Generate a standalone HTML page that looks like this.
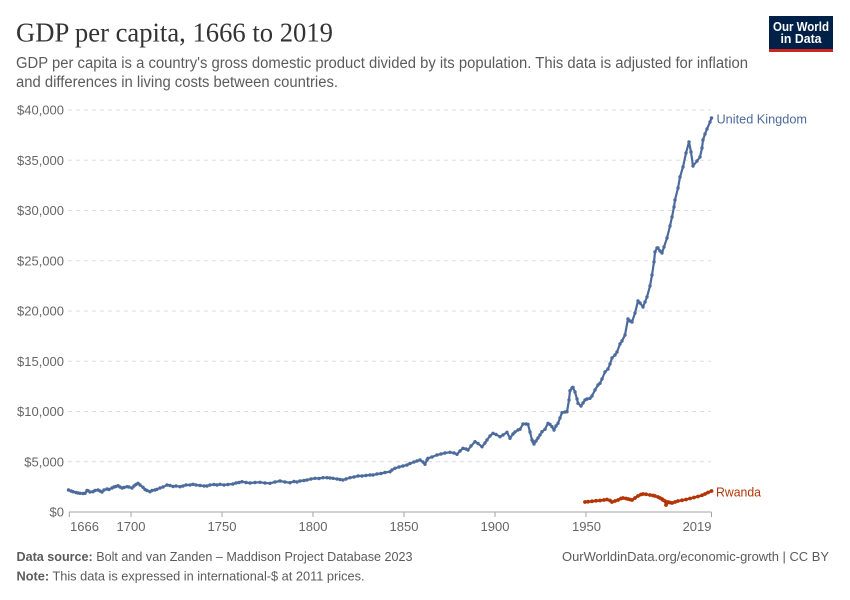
<!DOCTYPE html>
<html>
<head>
<meta charset="utf-8">
<style>
html,body{margin:0;padding:0;background:#fff;}
svg{display:block;}
text{font-family:"Liberation Sans",sans-serif;}
</style>
</head>
<body>
<svg width="850" height="600" viewBox="0 0 850 600" xmlns="http://www.w3.org/2000/svg">
<defs>
<marker id="dUK" markerUnits="userSpaceOnUse" markerWidth="4" markerHeight="4" refX="2" refY="2"><circle cx="2" cy="2" r="1.7" fill="#4C6A9C"/></marker>
<marker id="dRW" markerUnits="userSpaceOnUse" markerWidth="5" markerHeight="5" refX="2.5" refY="2.5"><circle cx="2.5" cy="2.5" r="1.9" fill="#B13507"/></marker>
</defs>
<rect width="850" height="600" fill="#fff"/>

<!-- Title -->
<text x="16" y="41.5" font-size="27" fill="#333" textLength="317" lengthAdjust="spacingAndGlyphs" style="font-family:'Liberation Serif',serif">GDP per capita, 1666 to 2019</text>
<text x="16" y="68" font-size="15.5" fill="#5b5b5b" textLength="732" lengthAdjust="spacingAndGlyphs">GDP per capita is a country's gross domestic product divided by its population. This data is adjusted for inflation</text>
<text x="16" y="87" font-size="15.5" fill="#5b5b5b" textLength="322" lengthAdjust="spacingAndGlyphs">and differences in living costs between countries.</text>

<!-- Logo -->
<rect x="769" y="16" width="64" height="36" fill="#002147"/>
<rect x="769" y="49" width="64" height="3" fill="#CE261E"/>
<text x="801" y="31" font-size="13" font-weight="bold" fill="#fff" text-anchor="middle" textLength="56" lengthAdjust="spacingAndGlyphs">Our World</text>
<text x="801" y="43" font-size="13" font-weight="bold" fill="#fff" text-anchor="middle" textLength="41" lengthAdjust="spacingAndGlyphs">in Data</text>

<!-- Grid -->
<g stroke="#dddddd" stroke-width="1" stroke-dasharray="4,4">
<line x1="68" y1="110" x2="711" y2="110"/>
<line x1="68" y1="160.25" x2="711" y2="160.25"/>
<line x1="68" y1="210.5" x2="711" y2="210.5"/>
<line x1="68" y1="260.75" x2="711" y2="260.75"/>
<line x1="68" y1="311" x2="711" y2="311"/>
<line x1="68" y1="361.25" x2="711" y2="361.25"/>
<line x1="68" y1="411.5" x2="711" y2="411.5"/>
<line x1="68" y1="461.75" x2="711" y2="461.75"/>
</g>

<!-- Y labels -->
<g font-size="13" fill="#666" text-anchor="end">
<text x="64" y="114.5">$40,000</text>
<text x="64" y="164.75">$35,000</text>
<text x="64" y="215">$30,000</text>
<text x="64" y="265.25">$25,000</text>
<text x="64" y="315.5">$20,000</text>
<text x="64" y="365.75">$15,000</text>
<text x="64" y="416">$10,000</text>
<text x="64" y="466.25">$5,000</text>
<text x="64" y="516.5">$0</text>
</g>

<!-- X axis -->
<line x1="69" y1="512" x2="711.5" y2="512" stroke="#a6a6a6" stroke-width="1"/>
<g stroke="#a6a6a6" stroke-width="1">
<line x1="69.3" y1="512" x2="69.3" y2="517"/>
<line x1="131" y1="512" x2="131" y2="517"/>
<line x1="222" y1="512" x2="222" y2="517"/>
<line x1="313" y1="512" x2="313" y2="517"/>
<line x1="404" y1="512" x2="404" y2="517"/>
<line x1="495" y1="512" x2="495" y2="517"/>
<line x1="586" y1="512" x2="586" y2="517"/>
<line x1="711.5" y1="512" x2="711.5" y2="517"/>
</g>
<g font-size="13" fill="#666" text-anchor="middle">
<text x="84.5" y="531">1666</text>
<text x="131" y="531">1700</text>
<text x="222" y="531">1750</text>
<text x="313" y="531">1800</text>
<text x="404" y="531">1850</text>
<text x="495" y="531">1900</text>
<text x="586.5" y="531">1950</text>
<text x="711.5" y="531" text-anchor="end">2019</text>
</g>

<!-- UK series -->
<polyline fill="none" stroke="#4C6A9C" stroke-width="2.2" stroke-linejoin="round"
marker-start="url(#dUK)" marker-mid="url(#dUK)" marker-end="url(#dUK)"
points="68.5,490 71,491 73,491.7 76,492.5 78,493 80,493.3 83,493.5 85,493.3 87,490.5 88,490.7 90,492 93,491.7 95,490.5 98,490 100,491 102,492 104,490 107,489 109,489.5 112,488 114,487 116,486.5 118,485.7 120,487 122,488 124,487.5 127,486.7 129,487 132,488 134,486 136,484.5 138,483.3 140,485 143,487.3 145,489.5 147,490.5 150,491.7 152,490.5 155,490 157,489.3 160,488 163,487 167,485 170,485.5 173,486.5 176,486 180,486.7 183,486 186,485 190,485 193,484.3 196,485 200,485.5 204,486 207,486 210,485 214,484.5 217,485 220,484.3 224,485 228,484.5 233,484 236,483 239,482.5 242,481.7 246,482.5 250,483 255,482.5 260,482.3 265,483 270,483.3 275,482 280,481 285,482 290,482.7 294,481.5 297,482 300,481 304,480.5 307,480 311,479 315,478.3 319,478.5 323,477.7 327,477.7 330,478 333,478.3 337,479 340,479.5 343,480 346,479 350,477.7 354,477 358,476 362,476 366,475.5 370,475 373,475 377,474 381,473.5 385,472.5 390,471.7 392,470 395,468.3 399,467 403,466 407,465 410,463.5 414,462 417,461 420,460 423,462 425,464.3 427,460 428,458.3 432,457 437,455 441,454 445,453 450,452.3 454,453 457,454.3 460,451 463,448.3 466,449 468,450 471,446 475,441.7 478,443.5 482,446.7 485,443 487,440 490,436 493,433.3 496,434.5 500,436.7 503,435 507,432.3 510,438.3 513,434 515,432 518,430 520,429.3 523,424 526,424 528,424.3 530,432 532,440 533,441.7 534,444 536,441 538,438 540,435 542,431.7 545,429.3 548,423.3 550,424.5 552,426.7 554,430 556,426 558,423.3 560,418 562,412.7 565,412 567,411.7 569,400 570,390.7 572,388 573,387.3 575,392 577,399 578,403.3 581,406 583,403 585,400 587,399 590,398.3 592,396 595,390 598,385 600,383.3 602,379 605,372 608,369 610,364 612,358 615,355 617,352 620,344 622,341 625,335 628,319 630,321 632,322 635,313 638,301 640,303 643,307 645,302 647,297 650,286 652,275 654,262 655,252 657,248 658,248 660,251 662,253 664,247 667,238 670,226 672,217 674,207 675,200 678,188 680,177 683,167 686,153 689,142 691,152 693,166 697,161 700,157 702,148 703,140 705,134 707,129 710,122 711.5,118"/>

<!-- Rwanda series -->
<polyline fill="none" stroke="#B13507" stroke-width="2.4" stroke-linejoin="round"
marker-start="url(#dRW)" marker-mid="url(#dRW)" marker-end="url(#dRW)"
points="585,502 588,501.7 592,501.3 596,500.8 600,500.5 604,500 607,499.5 610,500.5 612,502 615,501 618,500 621,498.5 623,498 626,498.5 628,499 630,499.5 632,500 635,498 638,496 641,494.5 643,494 646,494.3 650,495 653,495.5 655,496 658,497 660,498 662,499 663,500 665,501 666,505 667,503 668,502 670,502.5 672,503 675,502 678,501 682,500.3 686,499.5 690,498.5 694,497.5 698,496.5 702,495.3 705,494 708,492.5 711.5,491"/>

<!-- Series labels -->
<text x="716.5" y="123.5" font-size="13" fill="#4C6A9C" textLength="90.5" lengthAdjust="spacingAndGlyphs">United Kingdom</text>
<text x="716" y="496.5" font-size="13" fill="#B13507" textLength="45" lengthAdjust="spacingAndGlyphs">Rwanda</text>

<!-- Footer -->
<text x="16.5" y="561" font-size="13" fill="#5b5b5b" textLength="396" lengthAdjust="spacingAndGlyphs"><tspan font-weight="bold">Data source:</tspan> Bolt and van Zanden – Maddison Project Database 2023</text>
<text x="16.5" y="580.5" font-size="13" fill="#5b5b5b" textLength="348" lengthAdjust="spacingAndGlyphs"><tspan font-weight="bold">Note:</tspan> This data is expressed in international-$ at 2011 prices.</text>
<text x="829" y="561" font-size="13" fill="#5b5b5b" text-anchor="end" textLength="267" lengthAdjust="spacingAndGlyphs">OurWorldinData.org/economic-growth | CC BY</text>
</svg>
</body>
</html>
